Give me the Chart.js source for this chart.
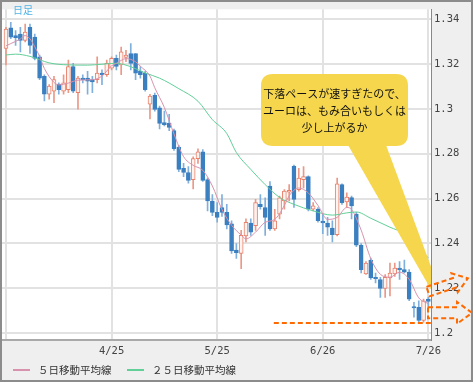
<!DOCTYPE html>
<html>
<head>
<meta charset="utf-8">
<script src="https://cdn.jsdelivr.net/npm/chart.js@4.4.1/dist/chart.umd.min.js"></script>
<style>
html,body{margin:0;padding:0;background:#fff;}
#wrap{width:473px;height:382px;}
</style>
</head>
<body>
<div id="wrap"><canvas id="candleChart" width="473" height="382"></canvas></div>
<script>
//----------日足チャート----------

// 四本値
var openV  = [1.3269,1.3361,1.3327,1.3334,1.3305,1.3364,1.3320,1.3232,1.3145,1.3065,
              1.3079,1.3111,1.3079,1.3086,1.3189,1.3072,1.3137,1.3137,1.3130,1.3130,
              1.3159,1.3152,1.3181,1.3225,1.3196,1.3229,1.3247,1.3247,1.3167,1.3159,
              1.3021,1.3060,1.3005,1.2939,1.2935,1.2903,1.2830,1.2735,1.2716,1.2684,
              1.2778,1.2808,1.2684,1.2589,1.2538,1.2560,1.2538,1.2487,1.2370,1.2355,
              1.2433,1.2491,1.2479,1.2574,1.2560,1.2655,1.2465,1.2530,1.2589,1.2628,
              1.2745,1.2640,1.2684,1.2698,1.2553,1.2553,1.2499,1.2491,1.2468,1.2439,
              1.2662,1.2585,1.2604,1.2531,1.2392,1.2264,1.2326,1.2249,1.2239,1.2199,
              1.2246,1.2264,1.2290,1.2283,1.2272,1.2118,1.2115,1.2056,1.2151];
var highV  = [1.3364,1.3386,1.3349,1.3364,1.3378,1.3378,1.3334,1.3240,1.3152,1.3108,
              1.3145,1.3116,1.3152,1.3218,1.3203,1.3145,1.3152,1.3167,1.3145,1.3232,
              1.3174,1.3218,1.3232,1.3240,1.3276,1.3261,1.3291,1.3247,1.3189,1.3167,
              1.3065,1.3070,1.3012,1.2990,1.2975,1.2910,1.2837,1.2757,1.2742,1.2786,
              1.2822,1.2818,1.2691,1.2618,1.2582,1.2618,1.2574,1.2501,1.2399,1.2458,
              1.2509,1.2509,1.2596,1.2618,1.2603,1.2676,1.2552,1.2611,1.2640,1.2662,
              1.2749,1.2735,1.2742,1.2701,1.2582,1.2560,1.2531,1.2516,1.2501,1.2691,
              1.2666,1.2625,1.2611,1.2538,1.2399,1.2319,1.2334,1.2268,1.2249,1.2261,
              1.2312,1.2312,1.2319,1.2326,1.2283,1.2137,1.2144,1.2151,1.2159];
var lowV   = [1.3196,1.3313,1.3283,1.3254,1.3298,1.3247,1.3218,1.3130,1.3035,1.3043,
              1.3028,1.3065,1.3065,1.3072,1.3072,1.2999,1.3116,1.3065,1.3072,1.3116,
              1.3108,1.3145,1.3174,1.3174,1.3152,1.3210,1.3174,1.3130,1.3137,1.3079,
              1.2955,1.2990,1.2910,1.2924,1.2903,1.2815,1.2720,1.2698,1.2669,1.2643,
              1.2757,1.2676,1.2545,1.2523,1.2494,1.2520,1.2465,1.2355,1.2333,1.2287,
              1.2406,1.2436,1.2458,1.2552,1.2436,1.2458,1.2458,1.2509,1.2552,1.2589,
              1.2560,1.2633,1.2647,1.2545,1.2545,1.2494,1.2443,1.2436,1.2407,1.2433,
              1.2574,1.2560,1.2509,1.2385,1.2268,1.2261,1.2239,1.2224,1.2159,1.2159,
              1.2166,1.2253,1.2239,1.2268,1.2144,1.2071,1.2042,1.2049,1.2115];
var closeV = [1.3356,1.3320,1.3317,1.3305,1.3342,1.3283,1.3225,1.3137,1.3065,1.3101,
              1.3130,1.3086,1.3116,1.3189,1.3079,1.3137,1.3130,1.3123,1.3120,1.3159,
              1.3151,1.3203,1.3225,1.3189,1.3254,1.3240,1.3203,1.3159,1.3152,1.3086,
              1.3057,1.2997,1.2935,1.2929,1.2917,1.2822,1.2730,1.2716,1.2681,1.2778,
              1.2808,1.2681,1.2589,1.2538,1.2516,1.2538,1.2482,1.2366,1.2358,1.2436,
              1.2494,1.2450,1.2582,1.2564,1.2516,1.2465,1.2501,1.2603,1.2633,1.2637,
              1.2596,1.2691,1.2698,1.2553,1.2567,1.2501,1.2491,1.2472,1.2439,1.2666,
              1.2582,1.2606,1.2567,1.2392,1.2283,1.2312,1.2246,1.2242,1.2199,1.2249,
              1.2268,1.2290,1.2283,1.2272,1.2151,1.2112,1.2056,1.2144,1.2141];

// 移動平均線（足の番号と値）
var ma5Idx  = [0,1,3,4,5,6,7,8,10,11,13,15,18,20,22,23,25,27,28,30,31,33,35,37,39,41,43,45,47,49,50,52,54,56,58,59,61,63,65,67,69,71,72,74,76,78,80,82,84,86,88];
var ma5Val  = [1.3281,1.3291,1.3312,1.3327,1.3312,1.3277,1.3234,1.3180,1.3118,1.3107,1.3115,1.3128,1.3130,1.3146,1.3192,1.3203,1.3224,1.3210,1.3190,1.3146,1.3094,1.3006,1.2888,1.2787,1.2748,1.2726,1.2656,1.2551,1.2481,1.2437,1.2420,1.2450,1.2494,1.2507,1.2569,1.2612,1.2647,1.2625,1.2569,1.2507,1.2516,1.2560,1.2551,1.2459,1.2332,1.2262,1.2249,1.2271,1.2240,1.2157,1.2131];
var ma25Idx = [0,2,5,9,13,17,20,23,26,29,32,36,40,43,46,48,51,54,57,60,64,68,71,73,76,80,83,88];
var ma25Val = [1.3240,1.3244,1.3234,1.3205,1.3196,1.3195,1.3199,1.3203,1.3188,1.3160,1.3137,1.3090,1.3034,1.2952,1.2890,1.2805,1.2730,1.2662,1.2605,1.2574,1.2545,1.2526,1.2536,1.2540,1.2512,1.2472,1.2443,1.2335];

// 目盛り
var xTickIdx    = [0,22,44,66,88];
var xTickLabels = ['','4/25','5/25','6/26','7/26'];
var yTicks      = [1.2,1.22,1.24,1.26,1.28,1.3,1.32,1.34];

var supportLevel = 1.2045;   // 安値ライン
var tailLevel    = 1.2218;

var bodies = openV.map(function(o,i){ return {x:i, y:[o, closeV[i]]}; });
var wicks  = lowV.map(function(l,i){ return {x:i, y:[l, highV[i]]}; });
var isUp   = closeV.map(function(c,i){ return c >= openV[i]; });

var decor = {
  id: 'decor',
  beforeDraw: function(chart){
    var c = chart.ctx, a = chart.chartArea;
    c.save();
    c.fillStyle = '#efefef';
    c.fillRect(0,0,chart.width,chart.height);
    c.fillStyle = '#ffffff';
    c.fillRect(a.left,a.top,a.right-a.left,a.bottom-a.top);
    c.restore();
  },
  afterDatasetsDraw: function(chart){
    var c = chart.ctx, a = chart.chartArea;
    var xs = chart.scales.x, ys = chart.scales.y;
    c.save();
    // 安値ライン
    c.strokeStyle = '#ff6a00';
    c.lineWidth = 2;
    c.setLineDash([5,3]);
    var sy = ys.getPixelForValue(supportLevel);
    c.beginPath();
    c.moveTo(xs.getPixelForValue(55.8), sy);
    c.lineTo(a.right, sy);
    c.stroke();
    c.setLineDash([]);

    // 吹き出し
    c.beginPath();
    c.rect(a.left,a.top,a.right-a.left,a.bottom-a.top);
    c.clip();
    c.fillStyle = '#f6d64c';
    var bx = 261, by = 74, bw = 147, bh = 72, r = 12;
    c.beginPath();
    c.moveTo(bx+r,by);
    c.lineTo(bx+bw-r,by); c.quadraticCurveTo(bx+bw,by,bx+bw,by+r);
    c.lineTo(bx+bw,by+bh-r); c.quadraticCurveTo(bx+bw,by+bh,bx+bw-r,by+bh);
    c.lineTo(bx+r,by+bh); c.quadraticCurveTo(bx,by+bh,bx,by+bh-r);
    c.lineTo(bx,by+r); c.quadraticCurveTo(bx,by,bx+r,by);
    c.fill();
    var tipY = ys.getPixelForValue(tailLevel);
    c.beginPath();
    c.moveTo(348,by+bh-1);
    c.lineTo(386,by+bh-1);
    c.lineTo(a.right+24, tipY+47);
    c.closePath();
    c.fill();
    c.fillStyle = '#111';
    c.font = '11px "Noto Sans CJK JP"';
    c.textAlign = 'center';
    c.textBaseline = 'middle';
    var cx = bx + bw/2;
    c.fillText('下落ペースが速すぎたので、', cx, 94);
    c.fillText('ユーロは、もみ合いもしくは', cx, 111);
    c.fillText('少し上がるか', cx, 128);
    c.restore();

    c.save();
    c.fillStyle = '#4fb4e6';
    c.font = '10px "Noto Sans CJK JP"';
    c.textAlign = 'left';
    c.textBaseline = 'alphabetic';
    c.fillText('日足', 13, 14);
    c.restore();
  },
  afterDraw: function(chart){
    var c = chart.ctx, a = chart.chartArea, ys = chart.scales.y;
    c.save();
    // 矢印
    function arrow(x0, y0, ang, L, hl, sw, hw){
      c.save();
      c.translate(x0,y0);
      c.rotate(ang);
      c.beginPath();
      c.moveTo(0,-sw); c.lineTo(L-hl,-sw); c.lineTo(L-hl,-hw); c.lineTo(L,0);
      c.lineTo(L-hl,hw); c.lineTo(L-hl,sw); c.lineTo(0,sw); c.closePath();
      c.stroke();
      c.restore();
    }
    c.strokeStyle = '#ff6a00';
    c.lineWidth = 2;
    c.setLineDash([5,3]);
    arrow(a.right-3, ys.getPixelForValue(1.2185), -0.32, 42, 14, 5, 10);
    arrow(a.right-3, ys.getPixelForValue(1.2090), 0, 44, 15, 5.5, 11);
    c.setLineDash([]);

    // 凡例
    var items = [[13, chart.data.datasets[0]], [127, chart.data.datasets[1]]];
    c.font = '10.5px "Noto Sans CJK JP"';
    c.textBaseline = 'middle';
    c.textAlign = 'left';
    items.forEach(function(it){
      c.strokeStyle = it[1].borderColor;
      c.lineWidth = 2;
      c.beginPath();
      c.moveTo(it[0],370); c.lineTo(it[0]+17,370);
      c.stroke();
      c.fillStyle = '#333';
      c.fillText(it[1].label, it[0]+25, 370);
    });

    // 枠
    c.strokeStyle = '#8c8c8c';
    c.lineWidth = 2;
    c.strokeRect(1,1,chart.width-2,chart.height-2);
    c.restore();
  }
};

var ctx = document.getElementById('candleChart').getContext('2d');
var myChart = new Chart(ctx, {
  type: 'bar',
  data: {
    datasets: [
      {
        type: 'line', label: '５日移動平均線',
        data: ma5Idx.map(function(x,k){ return {x:x, y:ma5Val[k]}; }),
        borderColor: '#d892ae', borderWidth: 1, pointRadius: 0,
        cubicInterpolationMode: 'monotone', fill: false
      },
      {
        type: 'line', label: '２５日移動平均線',
        data: ma25Idx.map(function(x,k){ return {x:x, y:ma25Val[k]}; }),
        borderColor: '#62cf99', borderWidth: 1, pointRadius: 0,
        cubicInterpolationMode: 'monotone', fill: false
      },
      {
        label: 'body', data: bodies, grouped: false, barThickness: 4, minBarLength: 1,
        backgroundColor: isUp.map(function(u){ return u ? '#fff3ef' : '#3a7fc0'; }),
        borderColor: isUp.map(function(u){ return u ? '#e8806a' : '#3a7fc0'; }),
        borderWidth: 1, borderSkipped: false
      },
      {
        label: 'wick', data: wicks, grouped: false, barThickness: 1,
        backgroundColor: isUp.map(function(u){ return u ? '#eb9886' : '#7fb0dd'; })
      }
    ]
  },
  options: {
    responsive: false,
    animation: false,
    events: [],
    layout: { padding: { left: 2, top: 2, right: 0, bottom: 22 } },
    plugins: { legend: { display: false }, tooltip: { enabled: false } },
    scales: {
      x: {
        type: 'linear', min: -0.83, max: 88.55, offset: false,
        afterBuildTicks: function(s){ s.ticks = xTickIdx.map(function(v){ return {value:v}; }); },
        afterFit: function(s){ s.height = 20; },
        grid: { color: '#e2e2e2', lineWidth: 2, drawTicks: false, offset: false },
        border: { color: '#a9a9a9', width: 2 },
        ticks: {
          autoSkip: false, maxRotation: 0, padding: 5, color: '#444',
          font: { family: 'DejaVu Sans Mono', size: 10.5 },
          callback: function(v, i){ return xTickLabels[i]; }
        }
      },
      y: {
        position: 'right', min: 1.1969, max: 1.3444,
        afterBuildTicks: function(s){ s.ticks = yTicks.map(function(v){ return {value:v}; }); },
        afterFit: function(s){ s.width = 42; },
        grid: { color: '#e2e2e2', lineWidth: 2, drawTicks: false },
        border: { color: '#888', width: 1 },
        ticks: {
          padding: 3, color: '#444',
          font: { family: 'DejaVu Sans Mono', size: 10.5 },
          callback: function(v){ return String(v); }
        }
      }
    }
  },
  plugins: [decor]
});
</script>
</body>
</html>
